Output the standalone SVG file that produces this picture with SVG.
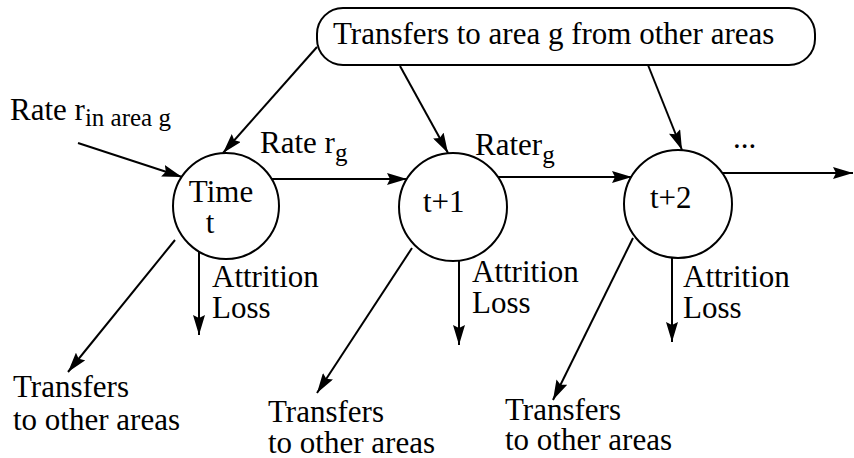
<svg xmlns="http://www.w3.org/2000/svg" width="854" height="458" viewBox="0 0 854 458">
<defs>
<marker id="ah" markerUnits="userSpaceOnUse" markerWidth="20" markerHeight="12" viewBox="0 0 20 12" refX="20" refY="6" orient="auto">
<path d="M0,0 L20,6 L0,12 L3,6 z" fill="#000"/>
</marker>
<style>
text{font-family:"Liberation Serif","Times New Roman",serif;font-size:31px;fill:#000}
.sub{font-size:25px}
.node{fill:#fff;stroke:#000;stroke-width:2}
.edge{stroke:#000;stroke-width:2;fill:none;marker-end:url(#ah)}
</style>
</defs>
<rect width="854" height="458" fill="#fff"/>
<g id="connectors">
<line class="edge" x1="78" y1="143" x2="182" y2="177"/>
<line class="edge" x1="317" y1="47" x2="223" y2="153"/>
<line class="edge" x1="400" y1="66" x2="448" y2="153"/>
<line class="edge" x1="648" y1="65" x2="682" y2="150"/>
<line class="edge" x1="272" y1="179" x2="407" y2="179"/>
<line class="edge" x1="498" y1="177" x2="632" y2="177"/>
<line class="edge" x1="722" y1="173" x2="853" y2="173"/>
<line class="edge" x1="199" y1="252" x2="199" y2="335"/>
<line class="edge" x1="459" y1="261" x2="459" y2="345"/>
<line class="edge" x1="672" y1="258" x2="672" y2="342"/>
<line class="edge" x1="175" y1="240" x2="68" y2="372"/>
<line class="edge" x1="412" y1="248" x2="317" y2="393"/>
<line class="edge" x1="633" y1="238" x2="553" y2="400"/>
</g>
<g id="source">
<rect class="node" x="317" y="8" width="498" height="57" rx="26" ry="26"/>
<text x="333" y="44">Transfers to area g from other areas</text>
</g>
<g id="node-t">
<circle class="node" cx="226" cy="206" r="53"/>
<text x="221" y="202" text-anchor="middle">Time</text>
<text x="210" y="233" text-anchor="middle">t</text>
</g>
<g id="node-t1">
<circle class="node" cx="453" cy="207" r="54"/>
<text x="423" y="212">t+1</text>
</g>
<g id="node-t2">
<circle class="node" cx="678" cy="204" r="54"/>
<text x="650" y="208">t+2</text>
</g>
<g id="labels">
<text x="10" y="120">Rate r<tspan class="sub" dy="6">in area g</tspan></text>
<text x="260" y="153">Rate r<tspan class="sub" dy="8">g</tspan></text>
<text x="475" y="155">Rater<tspan class="sub" dy="8">g</tspan></text>
<text x="733" y="148">...</text>
<text x="212" y="287">Attrition</text>
<text x="212" y="318">Loss</text>
<text x="472" y="282">Attrition</text>
<text x="472" y="313">Loss</text>
<text x="683" y="287">Attrition</text>
<text x="683" y="318">Loss</text>
<text x="13" y="397">Transfers</text>
<text x="13" y="430">to other areas</text>
<text x="268" y="422">Transfers</text>
<text x="268" y="453">to other areas</text>
<text x="505" y="420">Transfers</text>
<text x="505" y="450">to other areas</text>
</g>
</svg>
